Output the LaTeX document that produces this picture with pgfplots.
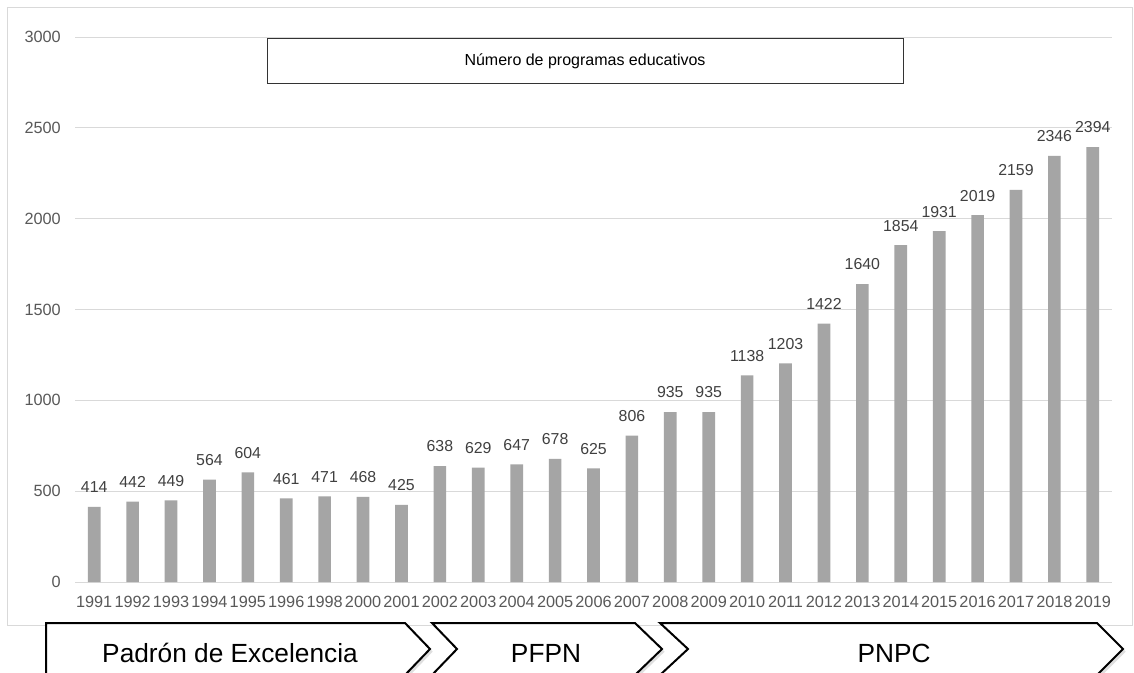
\documentclass[border=0pt]{standalone}
\usepackage{pgfplots}
\pgfplotsset{compat=1.18}
\usepackage{fontspec}
\setmainfont{Liberation Sans}
\usetikzlibrary{shadows}
\definecolor{bargray}{HTML}{A5A5A5}
\definecolor{gridgray}{HTML}{D9D9D9}
\definecolor{tickgray}{HTML}{595959}
\definecolor{labelgray}{HTML}{404040}
\begin{document}
\begin{tikzpicture}
\begin{scope}[x=0.75pt,y=-0.75pt]
\useasboundingbox (0,0) rectangle (1134,673);
\clip (0,0) rectangle (1134,673);
\fill[white] (0,0) rectangle (1134,673);
\draw[gridgray, line width=0.75pt] (7,8) rectangle (1132,625);
\end{scope}
\begin{axis}[
  at={(56.25pt,-436.5pt)}, anchor=south west,
  scale only axis, width=777.75pt, height=408.75pt,
  xmin=-0.5, xmax=26.5, ymin=0, ymax=3000,
  ybar, bar width=9.5pt,
  axis line style={draw=none},
  major tick length=0pt,
  ytick={0,500,1000,1500,2000,2500,3000},
  ymajorgrids, grid style={gridgray, line width=0.75pt},
  yticklabel style={font=\fontsize{12.2pt}{14pt}\selectfont, text=tickgray, anchor=east, inner sep=0pt, xshift=-10.5pt},
  xticklabel style={font=\fontsize{12.2pt}{14pt}\selectfont, text=tickgray, anchor=north, inner sep=0pt, yshift=-10.5pt},
  /pgf/number format/assume math mode=true,
  scaled y ticks=false,
  yticklabel={\pgfmathprintnumber[fixed,1000 sep={}]{\tick}},
  xtick={0,...,26},
  xticklabels={1991,1992,1993,1994,1995,1996,1998,2000,2001,2002,2003,2004,2005,2006,2007,2008,2009,2010,2011,2012,2013,2014,2015,2016,2017,2018,2019},
  nodes near coords,
  nodes near coords style={/pgf/number format/assume math mode=true, /pgf/number format/1000 sep={}},
  every node near coord/.append style={font=\fontsize{11.9pt}{14pt}\selectfont, text=labelgray, inner sep=0pt, anchor=south, yshift=10.3pt},
]
\addplot[fill=bargray, draw=none] coordinates {
(0,414) (1,442) (2,449) (3,564) (4,604) (5,461) (6,471) (7,468) (8,425)
(9,638) (10,629) (11,647) (12,678) (13,625) (14,806) (15,935) (16,935)
(17,1138) (18,1203) (19,1422) (20,1640) (21,1854) (22,1931) (23,2019)
(24,2159) (25,2346) (26,2394)};
\end{axis}
\begin{scope}[x=0.75pt,y=-0.75pt]
\clip (0,0) rectangle (1134,673);
\node[draw=black!80, line width=0.75pt, fill=white, minimum width=477pt, minimum height=33.75pt, inner sep=0pt,
  font=\fontsize{12pt}{14pt}\selectfont] at (585,61.5) {Número de programas educativos};
\begin{scope}[line width=1.5pt, line join=miter]
\draw[black, fill=white, drop shadow={opacity=0.25, shadow xshift=2pt, shadow yshift=-2pt}]
  (46,623) -- (405,623) -- (430,649) -- (405,675) -- (46,675) -- cycle;
\draw[black, fill=white, drop shadow={opacity=0.25, shadow xshift=2pt, shadow yshift=-2pt}]
  (432,623) -- (635,623) -- (662,649) -- (635,675) -- (432,675) -- (457,649) -- cycle;
\draw[black, fill=white, drop shadow={opacity=0.25, shadow xshift=2pt, shadow yshift=-2pt}]
  (660,623) -- (1097,623) -- (1123,649) -- (1097,675) -- (660,675) -- (688,649) -- cycle;
\end{scope}
\node[anchor=base, inner sep=0pt, font=\fontsize{19.7pt}{22pt}\selectfont] at (230,662) {Padrón de Excelencia};
\node[anchor=base, inner sep=0pt, font=\fontsize{19.7pt}{22pt}\selectfont] at (546,662) {PFPN};
\node[anchor=base, inner sep=0pt, font=\fontsize{19.7pt}{22pt}\selectfont] at (894,662) {PNPC};
\end{scope}
\end{tikzpicture}
\end{document}
